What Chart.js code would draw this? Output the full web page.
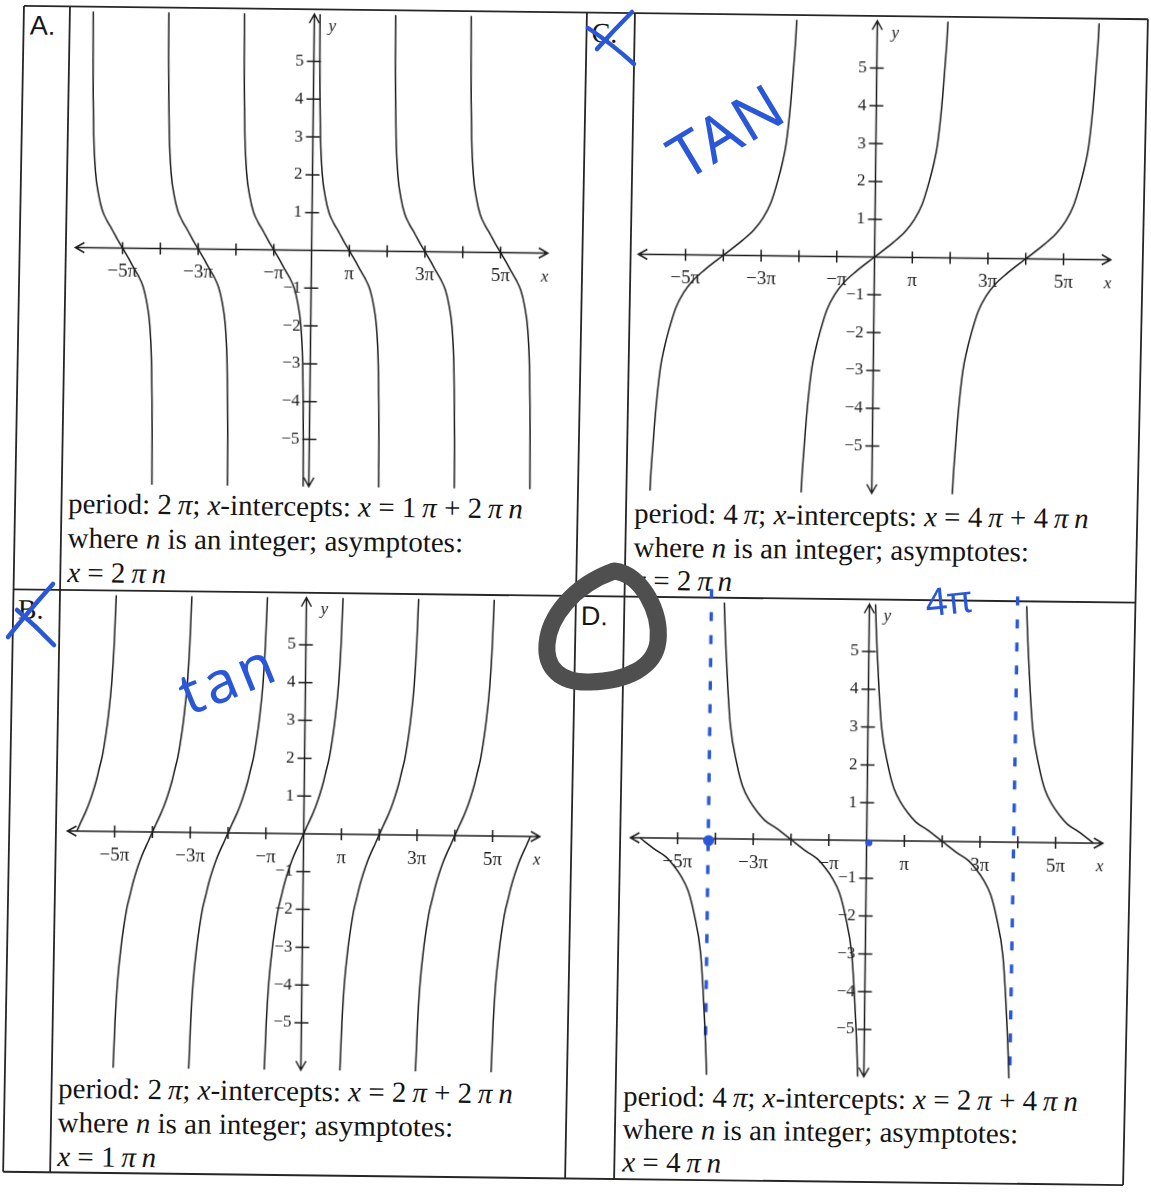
<!DOCTYPE html>
<html>
<head>
<meta charset="utf-8">
<title>Tangent and cotangent graphs</title>
<script src="https://cdn.jsdelivr.net/npm/chart.js@4.4.1/dist/chart.umd.min.js"></script>
<style>
  html, body { margin: 0; padding: 0; background: #fff; }
  body { width: 1151px; height: 1194px; overflow: hidden; position: relative; }
  #sheet { position: absolute; left: 0; top: 0; width: 1151px; height: 1194px;
           transform: rotate(0.68deg); transform-origin: 575px 597px; }
  #sheet svg, #ink { position: absolute; left: 0; top: 0; }
  #sheet canvas { position: absolute; }
  text { white-space: pre; }
</style>
</head>
<body>
<div id="sheet">
  <svg id="table" width="1151" height="1194">
    <g stroke="#262626" stroke-width="1.8" fill="none">
      <line x1="17" y1="12.5" x2="1141" y2="12.5"/>
      <line x1="13" y1="596" x2="1136" y2="596"/>
      <line x1="10" y1="1178.5" x2="1130" y2="1178.5"/>
      <line x1="17" y1="12.5" x2="10" y2="1178.5"/>
      <line x1="63" y1="12.5" x2="57" y2="1178.5"/>
      <line x1="580" y1="12.5" x2="572" y2="1178.5"/>
      <line x1="628" y1="12.5" x2="621" y2="1178.5"/>
      <line x1="1141" y1="12.5" x2="1130" y2="1178.5"/>
    </g>
    <g fill="#161616">
      <text x="23" y="41" font-family="Liberation Sans" font-size="27">A.</text>
      <text x="585" y="42" font-family="Liberation Serif" font-size="28">C.</text>
      <text x="18" y="625" font-family="Liberation Serif" font-size="28">B.</text>
      <text x="581" y="625" font-family="Liberation Sans" font-size="27">D.</text>
    </g>
    <g font-family="Liberation Serif" font-size="29" fill="#141414">
      <text x="67" y="519">period: 2&#8201;<tspan font-style="italic">π</tspan>; <tspan font-style="italic">x</tspan>-intercepts: <tspan font-style="italic">x</tspan> = 1&#8201;<tspan font-style="italic">π</tspan> + 2&#8201;<tspan font-style="italic">π&#8201;n</tspan></text>
      <text x="67" y="553.5">where <tspan font-style="italic">n</tspan> is an integer; asymptotes:</text>
      <text x="67" y="588"><tspan font-style="italic">x</tspan> = 2&#8201;<tspan font-style="italic">π&#8201;n</tspan></text>

      <text x="633" y="522">period: 4&#8201;<tspan font-style="italic">π</tspan>; <tspan font-style="italic">x</tspan>-intercepts: <tspan font-style="italic">x</tspan> = 4&#8201;<tspan font-style="italic">π</tspan> + 4&#8201;<tspan font-style="italic">π&#8201;n</tspan></text>
      <text x="633" y="556">where <tspan font-style="italic">n</tspan> is an integer; asymptotes:</text>
      <text x="633" y="589"><tspan font-style="italic">x</tspan> = 2&#8201;<tspan font-style="italic">π&#8201;n</tspan></text>

      <text x="64" y="1104">period: 2&#8201;<tspan font-style="italic">π</tspan>; <tspan font-style="italic">x</tspan>-intercepts: <tspan font-style="italic">x</tspan> = 2&#8201;<tspan font-style="italic">π</tspan> + 2&#8201;<tspan font-style="italic">π&#8201;n</tspan></text>
      <text x="64" y="1138">where <tspan font-style="italic">n</tspan> is an integer; asymptotes:</text>
      <text x="64" y="1172"><tspan font-style="italic">x</tspan> = 1&#8201;<tspan font-style="italic">π&#8201;n</tspan></text>

      <text x="629" y="1105">period: 4&#8201;<tspan font-style="italic">π</tspan>; <tspan font-style="italic">x</tspan>-intercepts: <tspan font-style="italic">x</tspan> = 2&#8201;<tspan font-style="italic">π</tspan> + 4&#8201;<tspan font-style="italic">π&#8201;n</tspan></text>
      <text x="629" y="1138">where <tspan font-style="italic">n</tspan> is an integer; asymptotes:</text>
      <text x="629" y="1171"><tspan font-style="italic">x</tspan> = 4&#8201;<tspan font-style="italic">π&#8201;n</tspan></text>
    </g>
  </svg>
  <canvas id="chartA"></canvas>
  <canvas id="chartC"></canvas>
  <canvas id="chartB"></canvas>
  <canvas id="chartD"></canvas>
</div>

<svg id="ink" width="1151" height="1194">
  <g stroke="#2a57d8" stroke-width="4.5" stroke-linecap="round" fill="none">
    <path d="M8 637 Q28 612 53 584"/>
    <path d="M17 610 Q36 626 54 645"/>
    <path d="M632 12 Q614 30 597 49"/>
    <path d="M588 28 Q612 44 634 64"/>
  </g>
  <g fill="#2a57d8" font-family="Noto Sans">
    <text transform="translate(738 150) rotate(-31)" text-anchor="middle" font-size="62" letter-spacing="2">TAN</text>
    <text transform="translate(236 697) rotate(-22)" text-anchor="middle" font-size="58" letter-spacing="4">tan</text>
    <text transform="translate(950 614) rotate(-6)" text-anchor="middle" font-size="38">4π</text>
  </g>
  <path d="M614 571 C642 574 661 612 658 641 C655 668 626 681 590 682 C560 683 545 668 547 644 C549 618 572 586 614 571 Z"
        fill="none" stroke="#4f4f4f" stroke-width="17" stroke-linejoin="round"/>
</svg>

<script>
// axis ticks (x in multiples of π)
const xTickValues = [-5, -4, -3, -2, -1, 1, 2, 3, 4, 5];
const xLabelValues = [-5, -3, -1, 1, 3, 5];
const xLabels = ['−5π', '−3π', '−π', 'π', '3π', '5π'];
const yTickValues = [-5, -4, -3, -2, -1, 1, 2, 3, 4, 5];
const yLabels = ['−5', '−4', '−3', '−2', '−1', '1', '2', '3', '4', '5'];

// one branch of each graph, from the x-intercept toward the asymptote:
// u = share of the half period, y = height of the curve there
const branchAu = [0, 0.15, 0.29, 0.42, 0.55, 0.65, 0.74, 0.8, 0.825, 0.84, 0.85, 0.87];
const branchAy = [0, 0.25, 0.5, 0.72, 1.0, 1.4, 2.0, 3.0, 4.0, 5.0, 6.3, 9.0];
const branchBu = [0, 0.1, 0.22, 0.3, 0.4, 0.5, 0.58, 0.65, 0.72, 0.79, 0.88, 0.93, 0.97, 1.0];
const branchBy = [0, 0.23, 0.5, 0.7, 1.0, 1.35, 1.7, 2.0, 2.45, 3.0, 4.0, 5.0, 6.3, 7.5];
const branchCu = [0, 0.25, 0.4, 0.52, 0.62, 0.71, 0.77, 0.815, 0.865, 0.9, 0.935, 0.96];
const branchCy = [0, 0.4, 0.68, 1.0, 1.4, 2.0, 2.5, 3.0, 4.0, 5.0, 6.3, 8.5];
const branchDu = [0, 0.2, 0.35, 0.45, 0.55, 0.65, 0.73, 0.82, 0.86, 0.89, 0.92, 0.95];
const branchDy = [0, 0.3, 0.5, 0.72, 1.0, 1.4, 2.0, 3.0, 4.0, 5.0, 6.3, 8.5];

// x-intercepts and half periods (in π)
const crossA = [-5, -3, -1, 1, 3, 5];
const crossB = [-6, -4, -2, 0, 2, 4, 6];
const crossC = [-4, 0, 4];
const crossD = [-6, -2, 2, 6];
const halfA = 1, halfB = 1, halfC = 2, halfD = 2;

// pen marks on graph D: asymptote guides and two dots
const penLeft = [{ x: -4.18, y: 6.6 }, { x: -4.2, y: -5.5 }];
const penRight = [{ x: 3.92, y: 6.5 }, { x: 3.86, y: -6.1 }];
const penDots = [{ x: -4.18, y: -0.05 }, { x: 0.06, y: -0.06 }];

const UNIT = 37.8;   // px per π (x) and per 1 (y)
const RANGE = 6.25;  // axes run from -RANGE to RANGE
const WINDOW = 6.02; // curves stop here
const PAD = 18;
const INK = '#1c1c1c';
const PEN = '#2a57d8';

function branches(crossings, half, dir, us, ys) {
  return crossings.map(c => {
    const pts = [];
    for (let i = us.length - 1; i > 0; i--) pts.push({ x: c - us[i] * half, y: -dir * ys[i] });
    for (let i = 0; i < us.length; i++) pts.push({ x: c + us[i] * half, y: dir * ys[i] });
    return pts.filter(p => Math.abs(p.x) <= WINDOW);
  });
}

function curveSets(list) {
  return list.map(pts => ({
    data: pts,
    borderColor: INK,
    borderWidth: 1.5,
    pointRadius: 0,
    cubicInterpolationMode: 'monotone',
    fill: false
  }));
}

const crossAxes = {
  id: 'crossAxes',
  beforeDatasetsDraw(chart) {
    const { ctx, chartArea: a, scales: { x, y } } = chart;
    const ox = x.getPixelForValue(0), oy = y.getPixelForValue(0);
    ctx.save();
    ctx.strokeStyle = INK;
    ctx.lineWidth = 1.5;
    ctx.beginPath();
    ctx.moveTo(a.left, oy); ctx.lineTo(a.right, oy);
    ctx.moveTo(ox, a.top); ctx.lineTo(ox, a.bottom);
    // open arrowheads
    ctx.moveTo(a.left + 9, oy - 5); ctx.lineTo(a.left, oy); ctx.lineTo(a.left + 9, oy + 5);
    ctx.moveTo(a.right - 9, oy - 5); ctx.lineTo(a.right, oy); ctx.lineTo(a.right - 9, oy + 5);
    ctx.moveTo(ox - 5, a.top + 9); ctx.lineTo(ox, a.top); ctx.lineTo(ox + 5, a.top + 9);
    ctx.moveTo(ox - 5, a.bottom - 9); ctx.lineTo(ox, a.bottom); ctx.lineTo(ox + 5, a.bottom - 9);
    xTickValues.forEach(v => {
      const px = x.getPixelForValue(v);
      ctx.moveTo(px, oy - 6); ctx.lineTo(px, oy + 6);
    });
    yTickValues.forEach(v => {
      const py = y.getPixelForValue(v);
      ctx.moveTo(ox - 7, py); ctx.lineTo(ox + 7, py);
    });
    ctx.stroke();

    ctx.fillStyle = INK;
    ctx.textBaseline = 'middle';
    ctx.textAlign = 'center';
    ctx.font = '19px "Liberation Serif"';
    xLabelValues.forEach((v, i) => ctx.fillText(xLabels[i], x.getPixelForValue(v), oy + 24));
    ctx.textAlign = 'right';
    ctx.font = '17px "Liberation Serif"';
    yTickValues.forEach((v, i) => ctx.fillText(yLabels[i], ox - 10, y.getPixelForValue(v)));
    ctx.font = 'italic 17px "Liberation Serif"';
    ctx.textAlign = 'center';
    ctx.fillText('y', ox + 18, a.top + 12);
    ctx.fillText('x', a.right - 3, oy + 24);
    ctx.restore();
  }
};

function mount(id, ox, oy, datasets) {
  const canvas = document.getElementById(id);
  const half = RANGE * UNIT;
  const left = Math.floor(ox - half - PAD), top = Math.floor(oy - half - PAD);
  const w = Math.ceil(ox + half + PAD) - left, h = Math.ceil(oy + half + PAD) - top;
  canvas.width = w; canvas.height = h;
  canvas.style.left = left + 'px'; canvas.style.top = top + 'px';
  canvas.style.width = w + 'px'; canvas.style.height = h + 'px';
  return new Chart(canvas, {
    type: 'line',
    data: { datasets },
    options: {
      responsive: false,
      animation: false,
      devicePixelRatio: 1,
      layout: {
        padding: {
          left: ox - half - left, top: oy - half - top,
          right: left + w - (ox + half), bottom: top + h - (oy + half)
        }
      },
      plugins: { legend: { display: false }, tooltip: { enabled: false } },
      scales: {
        x: { type: 'linear', min: -RANGE, max: RANGE, display: false },
        y: { type: 'linear', min: -RANGE, max: RANGE, display: false }
      }
    },
    plugins: [crossAxes]
  });
}

mount('chartA', 307.5, 253.5, curveSets(branches(crossA, halfA, -1, branchAu, branchAy)));
mount('chartC', 870.5, 253.5, curveSets(branches(crossC, halfC, 1, branchCu, branchCy)));
mount('chartB', 306.5, 837, curveSets(branches(crossB, halfB, 1, branchBu, branchBy)));
mount('chartD', 869.5, 837, curveSets(branches(crossD, halfD, -1, branchDu, branchDy)).concat([
  { data: penLeft, borderColor: PEN, borderWidth: 3.4, borderDash: [9, 14], pointRadius: 0, clip: false },
  { data: penRight, borderColor: PEN, borderWidth: 3.4, borderDash: [9, 14], pointRadius: 0, clip: false },
  { data: penDots, showLine: false, pointRadius: [5.5, 3.5], pointBackgroundColor: PEN, pointBorderWidth: 0 }
]));
</script>
</body>
</html>
